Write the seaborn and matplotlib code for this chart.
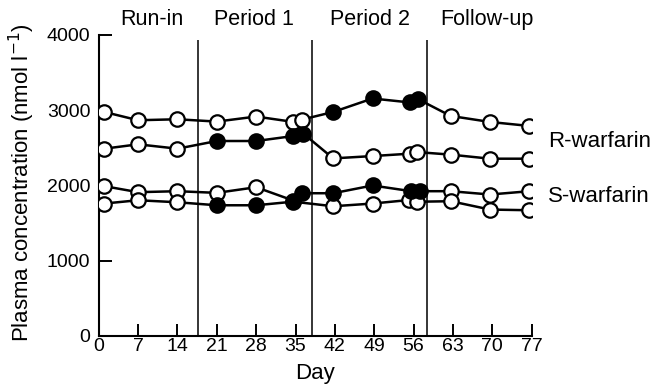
import matplotlib
matplotlib.use("Agg")
import matplotlib.pyplot as plt
import seaborn as sns
import pandas as pd

# ---- data ----
days_r_b = [1, 7, 14, 21, 28, 34.6, 36.1, 41.7, 48.7, 55.4, 56.8, 62.6, 69.6, 76.6]
conc_r_b = [2977, 2867, 2880, 2849, 2916, 2845, 2875, 2977, 3156, 3103, 3147, 2924, 2844, 2791]
fill_r_b = [0, 0, 0, 0, 0, 0, 0, 1, 1, 1, 1, 0, 0, 0]

days_r_a = [1, 7, 14, 21, 28, 34.6, 36.4, 41.7, 48.7, 55.4, 56.6, 62.6, 69.6, 76.6]
conc_r_a = [2489, 2547, 2489, 2591, 2591, 2657, 2689, 2360, 2391, 2423, 2444, 2410, 2356, 2356]
fill_r_a = [0, 0, 0, 1, 1, 1, 1, 0, 0, 0, 0, 0, 0, 0]

days_s_b = [1, 7, 14, 21, 28, 34.6, 36.1, 41.7, 48.7, 55.6, 57.1, 62.6, 69.6, 76.6]
conc_s_b = [1991, 1911, 1924, 1902, 1977, 1800, 1897, 1897, 2000, 1924, 1924, 1924, 1880, 1924]
fill_s_b = [0, 0, 0, 0, 0, 0, 1, 1, 1, 1, 1, 0, 0, 0]

days_s_a = [1, 7, 14, 21, 28, 34.6, 41.7, 48.7, 55.2, 56.6, 62.6, 69.6, 76.6]
conc_s_a = [1760, 1804, 1777, 1737, 1737, 1785, 1724, 1760, 1807, 1784, 1791, 1680, 1671]
fill_s_a = [0, 0, 0, 1, 1, 1, 0, 0, 0, 0, 0, 0, 0]

period_bounds = [17.6, 37.9, 58.3]
period_labels = ["Run-in", "Period 1", "Period 2", "Follow-up"]
period_label_x = [9.5, 27.6, 48.2, 69.0]
x_ticks = [0, 7, 14, 21, 28, 35, 42, 49, 56, 63, 70, 77]
y_ticks = [0, 1000, 2000, 3000, 4000]
series_labels = ["R-warfarin", "S-warfarin"]
series_label_y = [2591, 1853]

# ---- build table ----
frames = []
for name, d, c, f in [("rb", days_r_b, conc_r_b, fill_r_b),
                      ("ra", days_r_a, conc_r_a, fill_r_a),
                      ("sb", days_s_b, conc_s_b, fill_s_b),
                      ("sa", days_s_a, conc_s_a, fill_s_a)]:
    frames.append(pd.DataFrame({"series": name, "day": d, "conc": c,
                                "filled": [bool(v) for v in f]}))
df = pd.concat(frames, ignore_index=True)

sns.set_style("ticks")
plt.rcParams["font.family"] = ["Liberation Sans", "DejaVu Sans"]
plt.rcParams["text.color"] = "black"
plt.rcParams["axes.labelcolor"] = "black"
plt.rcParams["xtick.color"] = "black"
plt.rcParams["ytick.color"] = "black"

fig = plt.figure(figsize=(6.58, 3.9), dpi=100)
ax = fig.add_axes([0.150, 0.1385, 0.658, 0.7718])

for x in period_bounds:
    ax.vlines(x, 0, 3930, color="black", lw=1.1, zorder=1)

sns.lineplot(data=df, x="day", y="conc", units="series", estimator=None,
             sort=False, color="black", lw=1.8, ax=ax, zorder=2, legend=False)
sns.scatterplot(data=df[~df["filled"]], x="day", y="conc", color="white",
                edgecolor="black", linewidth=1.6, s=108, ax=ax, zorder=3,
                legend=False)
sns.scatterplot(data=df[df["filled"]], x="day", y="conc", color="black",
                edgecolor="black", linewidth=1.6, s=108, ax=ax, zorder=4,
                legend=False)

ax.set_xlim(0, 77)
ax.set_ylim(0, 4000)
ax.set_xticks(x_ticks)
ax.set_yticks(y_ticks)
ax.set_xticklabels([str(t) for t in x_ticks])
ax.set_yticklabels([str(t) for t in y_ticks])
ax.tick_params(axis="both", direction="in", length=9, width=1.4,
               labelsize=14, colors="black")
ax.tick_params(axis="x", pad=1.5)
ax.tick_params(axis="y", pad=6)
for side in ["top", "right"]:
    ax.spines[side].set_visible(False)
for side in ["left", "bottom"]:
    ax.spines[side].set_linewidth(1.5)
    ax.spines[side].set_color("black")

ax.set_xlabel("Day", fontsize=16, color="black")
ax.xaxis.set_label_coords(0.5, -0.125)
ax.xaxis.label.set_va("center")
ax.set_ylabel("Plasma concentration (nmol l$^{-1}$)", fontsize=16, color="black")
ax.yaxis.label.set_va("center")
ax.yaxis.set_label_coords(-0.177, 0.51)

for lab, x in zip(period_labels, period_label_x):
    ax.text(x, 4210, lab, ha="center", va="center", fontsize=15.5,
            color="black", clip_on=False)
for lab, y in zip(series_labels, series_label_y):
    ax.text(79.9, y, lab, ha="left", va="center", fontsize=16,
            color="black", clip_on=False)

fig.savefig("out.png", dpi=100)
